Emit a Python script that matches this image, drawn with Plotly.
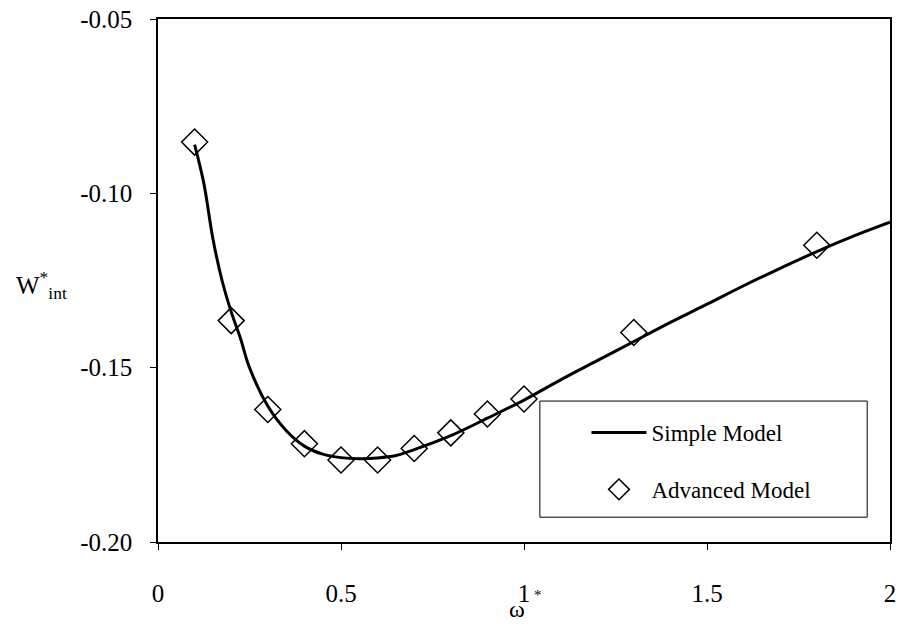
import plotly.graph_objects as go

# Simple Model (curve)
simple_x = [0.1, 0.125, 0.15, 0.175, 0.2, 0.225, 0.25, 0.3, 0.35, 0.4, 0.45, 0.5, 0.55,
            0.6, 0.65, 0.7, 0.8, 0.9, 1.0, 1.1, 1.2, 1.3, 1.4, 1.5, 1.6, 1.7, 1.8, 1.9, 2.0]
simple_y = [-0.086, -0.097, -0.113, -0.125, -0.134, -0.1415, -0.150, -0.161, -0.168,
            -0.1725, -0.1748, -0.1758, -0.1761, -0.1759, -0.1752, -0.1735, -0.1695,
            -0.1645, -0.1593, -0.1535, -0.148, -0.1425, -0.137, -0.1318, -0.1265,
            -0.1215, -0.1167, -0.1123, -0.1083]

# Advanced Model (diamonds)
adv_x = [0.1, 0.2, 0.3, 0.4, 0.5, 0.6, 0.7, 0.8, 0.9, 1.0, 1.3, 1.8]
adv_y = [-0.0853, -0.1365, -0.162, -0.1718, -0.1765, -0.1765, -0.1732, -0.1687,
         -0.1633, -0.159, -0.1399, -0.1149]

x_ticks = [0, 0.5, 1, 1.5, 2]
x_ticklabels = ["0", "0.5", "1", "1.5", "2"]
y_ticks = [-0.20, -0.15, -0.10, -0.05]
y_ticklabels = ["-0.20", "-0.15", "-0.10", "-0.05"]

FONT = "Liberation Serif"
W, H = 902, 626
# plot area in screenshot pixels: x 158..896, y 15..542
ML = 158
MR = W - 896
MT = 15
MB = H - 542

fig = go.Figure()
fig.add_trace(go.Scatter(
    x=simple_x, y=simple_y, mode="lines", name="Simple Model",
    line=dict(color="black", width=3, shape="spline"),
    legendgroup="a"))
fig.add_trace(go.Scatter(
    x=adv_x, y=adv_y, mode="markers", name="Advanced Model",
    marker=dict(symbol="diamond-open", size=20, color="black", line=dict(width=1.5, color="black")),
    legendgroup="b"))

def px_x(p):
    return (p - ML) / (W - ML - MR)

def px_y(p):
    return 1 - (p - MT) / (H - MT - MB)

fig.add_shape(type="rect", xref="paper", yref="paper",
              x0=px_x(543), x1=px_x(873), y0=px_y(517), y1=px_y(400),
              line=dict(color="black", width=1), fillcolor="white", layer="below")

fig.update_layout(
    width=W, height=H,
    margin=dict(l=ML, r=MR, t=MT, b=MB),
    paper_bgcolor="white", plot_bgcolor="white",
    font=dict(family=FONT, color="black", size=25),
    showlegend=True,
    legend=dict(
        x=px_x(590), y=px_y(410), xanchor="left", yanchor="top",
        bgcolor="rgba(0,0,0,0)", borderwidth=0,
        font=dict(family=FONT, size=23, color="black"),
        traceorder="grouped", tracegroupgap=24, itemwidth=55,
    ),
    xaxis=dict(
        range=[0, 2], tickvals=x_ticks, ticktext=x_ticklabels,
        ticks="outside", ticklen=6, tickwidth=1, tickcolor="black",
        showline=True, linecolor="black", linewidth=1.5, mirror=True,
        showgrid=False, zeroline=False, ticklabelstandoff=22,
        ticklabeloverflow="allow",
        tickfont=dict(family=FONT, size=25, color="black"),
    ),
    yaxis=dict(
        range=[-0.20, -0.05], tickvals=y_ticks, ticktext=y_ticklabels,
        ticks="outside", ticklen=6, tickwidth=1, tickcolor="black",
        showline=True, linecolor="black", linewidth=1.5, mirror=True,
        showgrid=False, zeroline=False, ticklabelstandoff=13,
        ticklabeloverflow="allow",
        tickfont=dict(family=FONT, size=25, color="black"),
    ),
)

# Axis titles
fig.add_annotation(xref="paper", yref="paper", x=px_x(13), y=px_y(283),
                   xanchor="left", yanchor="middle", showarrow=False,
                   text="W<sup>*</sup><sub>int</sub>",
                   font=dict(family=FONT, size=25, color="black"))
fig.add_annotation(xref="paper", yref="paper", x=px_x(520), y=px_y(624),
                   xanchor="center", yanchor="bottom", showarrow=False,
                   borderpad=0,
                   text="ω", font=dict(family=FONT, size=24, color="black"))
fig.add_annotation(xref="paper", yref="paper", x=px_x(541), y=px_y(595),
                   xanchor="center", yanchor="middle", showarrow=False,
                   borderpad=0,
                   text="*", font=dict(family=FONT, size=15, color="black"))

# remove the default page margin so the figure sits at the window's top-left corner
fig.write_html("out.html", config={"displayModeBar": False},
               post_script="document.body.style.margin='0';")
